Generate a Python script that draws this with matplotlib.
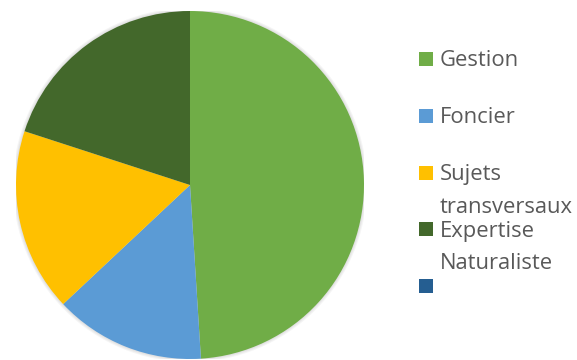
import matplotlib
matplotlib.use("Agg")
import matplotlib.pyplot as plt
from matplotlib.patches import Rectangle, Circle

categories = ["Gestion", "Foncier", "Sujets transversaux", "Expertise Naturaliste", ""]
legend_lines = [["Gestion"], ["Foncier"], ["Sujets", "transversaux"], ["Expertise", "Naturaliste"], [""]]
values = [49, 14, 17, 20, 0]
colors = ["#70AD47", "#5B9BD5", "#FFC000", "#43682B", "#255E91"]

W, H = 577, 360
fig = plt.figure(figsize=(W / 100, H / 100), dpi=100)
fig.patch.set_facecolor("white")

cx, cy, r = 190, 185, 174
ax = fig.add_axes([(cx - r) / W, (H - cy - r) / H, 2 * r / W, 2 * r / H])
# soft shadow
for i, rr in enumerate([1.018, 1.012, 1.006]):
    ax.add_patch(Circle((0, 0), rr, color="#000000", alpha=0.04, lw=0, zorder=0))
wedges, _ = ax.pie(values, colors=colors, startangle=90, counterclock=False,
                   wedgeprops=dict(linewidth=0))
ax.set_xlim(-1, 1)
ax.set_ylim(-1, 1)
ax.set_aspect("equal")
ax.axis("off")

# legend (manual, Excel-like layout)
font = "Open Sans"
y0, step, lstep = 59, 56.8, 32.5
for i, (lines, col) in enumerate(zip(legend_lines, colors)):
    y = y0 + i * step
    fig.add_artist(Rectangle((419 / W, 1 - (y + 7) / H), 14 / W, 14 / H,
                             transform=fig.transFigure, color=col, lw=0))
    for j, line in enumerate(lines):
        if line:
            fig.text(440 / W, 1 - (y + 2 + j * lstep) / H, line, fontsize=15.8,
                     family=font, color="#595959", va="center", ha="left")

fig.savefig("out.png", dpi=100)
